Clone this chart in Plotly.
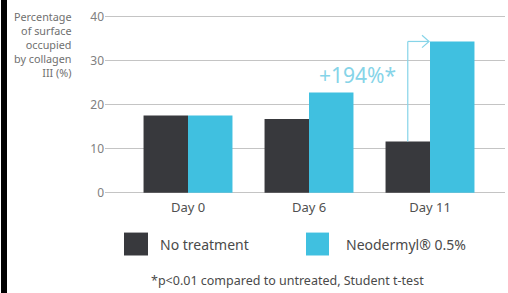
import plotly.graph_objects as go

categories = ["Day 0", "Day 6", "Day 11"]
no_treatment = [17.5, 16.7, 11.6]
neodermyl = [17.5, 22.7, 34.3]
series_names = ["No treatment", "Neodermyl® 0.5%"]
y_ticks = [0, 10, 20, 30, 40]
increase_label = "+194%*"
footnote = "*p<0.01 compared to untreated, Student t-test"
y_title = "Percentage<br>of surface<br>occupied<br>by collagen<br>III (%)"

DARK = "#38393d"
CYAN = "#40c0e0"
LIGHT_CYAN = "#86d4e8"
FONT = "Noto Sans"

W, H = 508, 293
L, R = 105, 3
Y0_PX, Y1_PX = 194.3, 14.7
T, B = Y1_PX, H - Y0_PX
PW = W - L - R
PH = Y0_PX - Y1_PX

def px_x(px):
    return (px - L) / PW

def px_y(py):
    return (Y0_PX - py) / PH

bargap = 0.265
bar_w = (1 - bargap) / 2

fig = go.Figure()
fig.add_trace(go.Bar(x=categories, y=no_treatment, name=series_names[0],
                     marker=dict(color=DARK, line=dict(width=0))))
fig.add_trace(go.Bar(x=categories, y=neodermyl, name=series_names[1],
                     marker=dict(color=CYAN, line=dict(width=0))))

# bracket on Day 11
i = 2
xd = i - bar_w / 2
xc = i - 0.008
ytop = neodermyl[i]
ydark = no_treatment[i]
fig.add_shape(type="line", xref="x", yref="y", x0=xd, x1=xd, y0=ydark, y1=ytop,
              line=dict(color=LIGHT_CYAN, width=1.2))
fig.add_shape(type="line", xref="x", yref="y", x0=xd, x1=xc, y0=ytop, y1=ytop,
              line=dict(color=LIGHT_CYAN, width=1.2))
fig.add_shape(type="path", xref="x", yref="y",
              path=f"M {xc-0.058},{ytop+1.4} L {xc},{ytop} L {xc-0.058},{ytop-1.4}",
              line=dict(color=LIGHT_CYAN, width=1.2))

fig.add_annotation(x=1.397, y=26.7, xref="x", yref="y", text=increase_label,
                   showarrow=False, font=dict(family=FONT, size=21, color=LIGHT_CYAN))

# y title
fig.add_annotation(x=px_x(74), y=px_y(7), xref="paper", yref="paper", text=y_title,
                   showarrow=False, xanchor="right", yanchor="top", align="right",
                   font=dict(family=FONT, size=10.8, color="#707070"))

# legend
fig.add_shape(type="rect", xref="paper", yref="paper", x0=px_x(124), x1=px_x(148),
              y0=px_y(256), y1=px_y(233), fillcolor=DARK, line=dict(width=0))
fig.add_shape(type="rect", xref="paper", yref="paper", x0=px_x(306), x1=px_x(329),
              y0=px_y(256), y1=px_y(233), fillcolor=CYAN, line=dict(width=0))
fig.add_annotation(x=px_x(158), y=px_y(244.5), xref="paper", yref="paper",
                   text=series_names[0], showarrow=False, xanchor="left", yanchor="middle",
                   font=dict(family=FONT, size=14, color="#4a4a4a"))
fig.add_annotation(x=px_x(344), y=px_y(244.5), xref="paper", yref="paper",
                   text=series_names[1], showarrow=False, xanchor="left", yanchor="middle",
                   font=dict(family=FONT, size=14, color="#4a4a4a"))
fig.add_annotation(x=px_x(287), y=px_y(281), xref="paper", yref="paper",
                   text=footnote, showarrow=False, xanchor="center", yanchor="middle",
                   font=dict(family=FONT, size=12.5, color="#4a4a4a"))

# black border on left
fig.add_shape(type="rect", xref="paper", yref="paper", x0=px_x(1), x1=px_x(7),
              y0=px_y(296), y1=px_y(-3), fillcolor="black", line=dict(width=0),
              layer="above")

fig.update_layout(
    width=W, height=H,
    margin=dict(l=L, r=R, t=T, b=B, pad=0),
    paper_bgcolor="white", plot_bgcolor="white",
    barmode="group", bargap=bargap, bargroupgap=0,
    showlegend=False,
    font=dict(family=FONT),
    xaxis=dict(range=[-0.686, -0.686 + PW / 121], showgrid=False, zeroline=False,
               showline=False, ticks="", ticklabelstandoff=4,
               tickfont=dict(family=FONT, size=13, color="#505050"),
               fixedrange=True),
    yaxis=dict(range=[-0.3, 40.3], tickvals=y_ticks, showgrid=True, gridcolor="#c4c4c4",
               gridwidth=1, zeroline=False, showline=False, ticks="",
               tickfont=dict(family=FONT, size=12, color="#808080"), fixedrange=True),
)

fig.write_html("out.html", config={"displayModeBar": False},
               post_script="document.body.style.margin='0';document.body.style.overflow='hidden';")
